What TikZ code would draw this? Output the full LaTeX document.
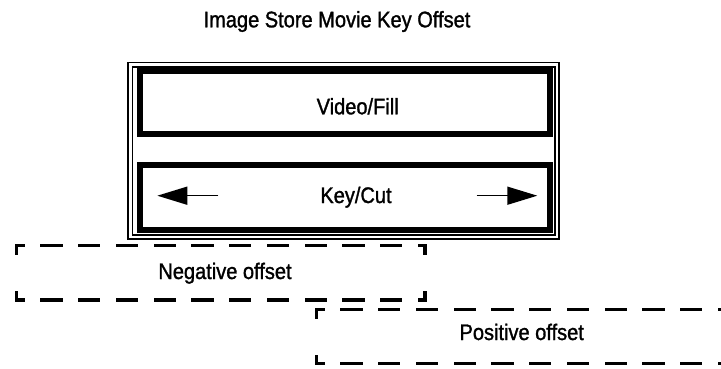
\documentclass[tikz,border=0pt]{standalone}
\usepackage{fontspec}
\setmainfont{Liberation Sans}[FakeStretch=0.89,FakeBold=1.3]
\usetikzlibrary{arrows.meta}
\begin{document}
\begin{tikzpicture}[x=1pt,y=-1pt,
  lbl/.style={anchor=base, inner sep=0pt, font=\fontsize{22.5}{26}\selectfont},
  thickbox/.style={draw, line width=6pt, inner sep=0pt, outer sep=0pt, minimum width=409.4pt},
  frame/.style={draw, double, double distance=2.5pt, line width=1.7pt, inner sep=0pt, outer sep=0pt, minimum width=426.8pt, minimum height=172.3pt},
  offbox/.style={inner sep=0pt, outer sep=0pt, minimum width=408.3pt, minimum height=54.3pt},
  hdash/.style={line width=3.2pt, line cap=rect, dash pattern=on 19pt off 18.75pt, dash phase=12.5pt},
  vdash/.style={line width=3.2pt, line cap=rect, dash pattern=on 7.5pt off 39.3pt},
  keyarrow/.style={line width=1.5pt, -{Triangle[length=30pt,width=18pt]}}
]
\useasboundingbox[fill=white] (0,0) rectangle (721,368);

% title
\node[lbl] (title) at (337,27.3) {Image Store Movie Key Offset};

% outer frame
\node[frame] (frame) at (343.8,150.85) {};

% video/fill and key/cut boxes
\node[thickbox, minimum height=62.7pt] (video) at (345,102.65) {};
\node[thickbox, minimum height=64.2pt] (key) at (345,197.4) {};
\node[lbl] (videotxt) at (357.7,114.3) {Video/Fill};
\node[lbl] (keytxt) at (356,203) {Key/Cut};

% arrows in key/cut
\coordinate (la0) at (218.3,195.7);
\coordinate (la1) at (157.3,195.7);
\coordinate (ra0) at (476.7,195.7);
\coordinate (ra1) at (537.3,195.7);
\draw[keyarrow] (la0) -- (la1);
\draw[keyarrow] (ra0) -- (ra1);

% negative offset
\node[offbox] (neg) at (220.85,272.85) {};
\draw[hdash] (neg.north west) -- (neg.north east);
\draw[hdash] (neg.south west) -- (neg.south east);
\draw[vdash] (neg.north west) -- (neg.south west);
\draw[vdash] (neg.north east) -- (neg.south east);
\node[lbl] (negtxt) at (225,279) {Negative offset};

% positive offset
\node[offbox] (pos) at (520.85,336.65) {};
\draw[hdash] (pos.north west) -- (pos.north east);
\draw[hdash] (pos.south west) -- (pos.south east);
\draw[vdash] (pos.north west) -- (pos.south west);
\draw[vdash] (pos.north east) -- (pos.south east);
\node[lbl] (postxt) at (521.7,340) {Positive offset};
\end{tikzpicture}
\end{document}
